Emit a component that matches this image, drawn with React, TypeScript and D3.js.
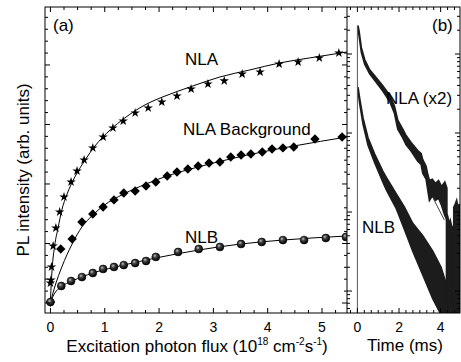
import { useEffect, useRef } from 'react';
import * as d3 from 'd3';

// panel (a): PL intensity vs excitation photon flux (10^18 cm^-2 s^-1)
const starFlux = [0, 0.01, 0.02, 0.05, 0.1, 0.17, 0.25, 0.38, 0.49, 0.62, 0.78, 0.97, 1.15, 1.34, 1.56, 1.8, 2.05, 2.33, 2.59, 2.9, 3.2, 3.53, 3.86, 4.21, 4.56, 4.95, 5.31];
const starPL = [1.68, 1.93, 3.03, 4.79, 6.3, 7.65, 8.91, 10.17, 11.09, 12.02, 13.03, 13.95, 14.71, 15.29, 15.97, 16.39, 16.89, 17.39, 17.98, 18.4, 18.66, 19.24, 19.41, 20.08, 20.25, 20.59, 21.01];

const diamondFlux = [0, 0.19, 0.4, 0.58, 0.78, 0.97, 1.17, 1.35, 1.56, 1.76, 1.94, 2.15, 2.33, 2.53, 2.72, 2.92, 3.12, 3.32, 3.51, 3.69, 3.9, 4.08, 4.28, 4.48, 4.87, 5.37];
const diamondPL = [0.08, 4.54, 5.38, 6.81, 7.48, 8.07, 8.66, 9.24, 9.41, 9.83, 10.17, 10.67, 11.01, 11.26, 11.51, 11.76, 11.85, 12.27, 12.44, 12.52, 12.69, 12.94, 13.03, 13.11, 13.78, 13.95];

const ballFlux = [0, 0.2, 0.38, 0.58, 0.78, 0.97, 1.17, 1.35, 1.56, 1.76, 1.94, 2.35, 2.73, 3.12, 3.51, 3.89, 4.28, 4.67, 5.07, 5.44];
const ballPL = [0.08, 1.43, 1.85, 2.18, 2.52, 2.86, 3.03, 3.19, 3.36, 3.53, 3.87, 4.29, 4.54, 4.71, 4.96, 5.13, 5.29, 5.29, 5.46, 5.55];

// fit curves
const fitNLAFlux = [0, 0.03, 0.08, 0.14, 0.21, 0.3, 0.45, 0.64, 0.82, 1.1, 1.37, 1.74, 2.11, 2.57, 3.12, 3.67, 4.22, 4.77, 5.46];
const fitNLAPL = [0.25, 2.77, 4.87, 6.3, 7.82, 9.08, 10.59, 12.02, 13.19, 14.54, 15.55, 16.64, 17.39, 18.15, 18.99, 19.58, 20.17, 20.59, 21.09];
const fitBgFlux = [0, 0.09, 0.21, 0.4, 0.58, 0.78, 0.97, 1.35, 1.76, 2.15, 2.72, 3.31, 3.9, 4.48, 5.46];
const fitBgPL = [0.08, 1.51, 3.03, 4.96, 6.39, 7.39, 8.15, 9.16, 10.0, 10.67, 11.43, 12.1, 12.69, 13.19, 13.95];
const fitNLBFlux = [0, 0.08, 0.19, 0.4, 0.78, 1.35, 1.94, 2.73, 3.51, 4.28, 5.46];
const fitNLBPL = [0.08, 0.84, 1.34, 1.85, 2.52, 3.19, 3.78, 4.45, 4.96, 5.29, 5.63];

// panel (b): decay traces, log intensity vs time (ms); hi/lo = width of the noisy trace
const nlaTime = [0.03, 0.08, 0.19, 0.35, 0.59, 0.91, 1.22, 1.55, 1.78, 1.94, 2.18, 2.34, 2.58, 2.9, 3.06, 3.14, 3.3, 3.38, 3.46, 3.6, 3.75, 3.9, 4.05, 4.2, 4.3];
const nlaHi = [2291, 1950, 1202, 851, 631, 501, 398, 302, 219, 145, 112, 93, 76, 60, 55, 46, 38, 30, 25, 26, 23, 25, 21, 24, 20];
const nlaLo = [2089, 1698, 1047, 741, 562, 437, 339, 251, 178, 112, 87, 71, 59, 44, 40, 31, 26, 19, 14, 16, 14, 15, 12, 9, 8];
const nlaLinkTime = [3.61, 4.18];
const nlaLinkVal = [15.5, 7.9];
const nlaTailTime = [4.28, 4.34, 4.4, 4.46, 4.52, 4.58];
const nlaTailTop = [9.5, 8.9, 7.1, 7.9, 6.8, 6.3];
const nlaTail2Time = [4.63, 4.7, 4.77, 4.84, 4.9, 4.95];
const nlaTail2Top = [11.5, 12.6, 14.1, 11.2, 12.6, 10];

const nlbTime = [0.03, 0.11, 0.27, 0.51, 0.83, 1.22, 1.39, 1.87, 2.26, 2.66, 3.14, 3.62, 4.02, 4.26, 4.42];
const nlbHi = [380, 275, 155, 87, 54, 33, 27.5, 17, 11.5, 7.2, 5.0, 3.2, 2.0, 1.26, 0.7];
const nlbLo = [340, 236, 130, 70, 42, 24, 19, 11, 6.0, 3.2, 1.6, 0.8, 0.5, 0.5, 0.5];

const FONT = '"Liberation Sans", Arial, sans-serif';

export default function App() {
    const ref = useRef<SVGSVGElement>(null);

    useEffect(() => {
        if (!ref.current) return;
        const svg = d3.select(ref.current);
        svg.selectAll('*').remove();

        const aL = 45, aR = 347, top = 7, bot = 313, bR = 460;

        const xA = d3.scaleLinear().domain([-0.1, 5.46]).range([aL, aR]);
        const yA = d3.scaleLinear().domain([-0.84, 24.87]).range([bot, top]);
        const xB = d3.scaleLinear().domain([-0.5, 4.93]).range([aR, bR]);
        const yB = d3.scaleLog().domain([0.527, 3935]).range([bot, top]);

        const defs = svg.append('defs');
        const grad = defs.append('radialGradient').attr('id', 'ball')
            .attr('cx', '38%').attr('cy', '35%').attr('r', '65%');
        grad.append('stop').attr('offset', '0%').attr('stop-color', '#c8c8c8');
        grad.append('stop').attr('offset', '35%').attr('stop-color', '#444');
        grad.append('stop').attr('offset', '100%').attr('stop-color', '#000');
        defs.append('clipPath').attr('id', 'clipB').append('rect')
            .attr('x', aR).attr('y', top).attr('width', bR - aR).attr('height', bot - top);
        defs.append('clipPath').attr('id', 'clipA').append('rect')
            .attr('x', aL).attr('y', top).attr('width', aR - aL).attr('height', bot - top);

        // ---- panel (a) fits
        const ga = svg.append('g').attr('clip-path', 'url(#clipA)');
        const fitLine = d3.line<[number, number]>()
            .x(d => xA(d[0])).y(d => yA(d[1])).curve(d3.curveMonotoneX);
        [[fitNLAFlux, fitNLAPL], [fitBgFlux, fitBgPL], [fitNLBFlux, fitNLBPL]].forEach(([fx, fy]) => {
            ga.append('path')
                .attr('d', fitLine(fx.map((v, i) => [v, fy[i]] as [number, number])))
                .attr('fill', 'none').attr('stroke', '#000').attr('stroke-width', 1);
        });

        // markers
        const star = d3.symbol(d3.symbolStar, 28)()!;
        ga.selectAll('path.star').data(starFlux).enter().append('path')
            .attr('d', star)
            .attr('transform', (d, i) => `translate(${xA(d)},${yA(starPL[i])})`)
            .attr('fill', '#000');
        const sq = d3.symbol(d3.symbolSquare, 44)()!;
        ga.selectAll('path.dia').data(diamondFlux).enter().append('path')
            .attr('d', sq)
            .attr('transform', (d, i) => `translate(${xA(d)},${yA(diamondPL[i])}) rotate(45)`)
            .attr('fill', '#000');
        ga.selectAll('circle.ball').data(ballFlux).enter().append('circle')
            .attr('cx', d => xA(d)).attr('cy', (d, i) => yA(ballPL[i]))
            .attr('r', 3.9).attr('fill', 'url(#ball)').attr('stroke', '#000').attr('stroke-width', 0.7);

        // ---- panel (b) traces
        const gb = svg.append('g').attr('clip-path', 'url(#clipB)');
        const band = d3.area<number>()
            .x(d => xB(d)).curve(d3.curveLinear);
        const drawBand = (t: number[], hi: number[], lo: number[]) => {
            gb.append('path')
                .attr('d', band.y0((d, i) => yB(Math.max(lo[i], 0.5)))
                    .y1((d, i) => yB(Math.max(hi[i], 0.5)))(t))
                .attr('fill', '#1c1c1c').attr('stroke', '#1c1c1c').attr('stroke-width', 1.6);
        };
        drawBand(nlaTime, nlaHi, nlaLo);
        drawBand(nlbTime, nlbHi, nlbLo);
        drawBand(nlaTailTime, nlaTailTop, nlaTailTime.map(() => 0.5));
        drawBand(nlaTail2Time, nlaTail2Top, nlaTail2Time.map(() => 0.5));

        const ln = d3.line<[number, number]>().x(d => xB(d[0])).y(d => yB(d[1]));
        gb.append('path')
            .attr('d', ln(nlaLinkTime.map((t, i) => [t, nlaLinkVal[i]] as [number, number])))
            .attr('fill', 'none').attr('stroke', '#444').attr('stroke-width', 1);
        // rising edge at t = 0
        gb.append('path')
            .attr('d', ln([[0, 0.5], [0, nlaHi[0]]]))
            .attr('fill', 'none').attr('stroke', '#555').attr('stroke-width', 1);

        // ---- frames & ticks
        const axes = svg.append('g').attr('stroke', '#000').attr('stroke-width', 1).attr('fill', 'none');
        axes.append('rect').attr('x', aL).attr('y', top).attr('width', bR - aL).attr('height', bot - top);
        axes.append('line').attr('x1', aR).attr('x2', aR).attr('y1', top).attr('y2', bot);

        const tick = (x1: number, y1: number, x2: number, y2: number) =>
            axes.append('line').attr('x1', x1).attr('y1', y1).attr('x2', x2).attr('y2', y2);

        // panel a x ticks
        d3.range(0, 22).map(k => k * 0.25).forEach(v => {
            const x = xA(v);
            const len = v % 1 === 0 ? 5 : 3;
            tick(x, bot, x, bot - len);
            tick(x, top, x, top + len);
        });
        // panel a y ticks
        d3.range(0, 25).forEach(v => {
            const y = yA(v);
            const len = v % 5 === 0 ? 5 : 3;
            tick(aL, y, aL + len, y);
            tick(aR, y, aR - len, y);
        });
        // panel b x ticks
        d3.range(-1, 15).map(k => k / 3).forEach(v => {
            const x = xB(v);
            if (x <= aR + 0.5 || x >= bR - 0.5) return;
            const major = Math.abs(v - Math.round(v)) < 1e-6 && Math.round(v) % 2 === 0;
            const len = major ? 5 : 3;
            tick(x, bot, x, bot - len);
            tick(x, top, x, top + len);
        });
        // panel b log y ticks
        [0.1, 1, 10, 100, 1000].forEach(dec => {
            d3.range(1, 10).forEach(m => {
                const v = dec * m;
                if (v < 0.527 || v > 3935) return;
                const y = yB(v);
                const len = m === 1 ? 5 : 3;
                tick(aR, y, aR + len, y);
                tick(bR, y, bR - len, y);
            });
        });

        // ---- text
        const txt = svg.append('g').attr('font-family', FONT).attr('fill', '#000');
        const xTicksA = [0, 1, 2, 3, 4, 5];
        txt.selectAll('text.xa').data(xTicksA).enter().append('text')
            .attr('x', d => xA(d)).attr('y', 332).attr('text-anchor', 'middle')
            .attr('font-size', 14).text(d => d);
        const xTicksB = [0, 2, 4];
        txt.selectAll('text.xb').data(xTicksB).enter().append('text')
            .attr('x', d => xB(d)).attr('y', 332).attr('text-anchor', 'middle')
            .attr('font-size', 14).text(d => d);

        const xt = txt.append('text').attr('x', 197).attr('y', 352).attr('text-anchor', 'middle').attr('font-size', 17);
        xt.append('tspan').text('Excitation photon flux (10');
        xt.append('tspan').attr('dy', -7).attr('font-size', 10).text('18');
        xt.append('tspan').attr('dy', 7).text(' cm');
        xt.append('tspan').attr('dy', -7).attr('font-size', 10).text('-2');
        xt.append('tspan').attr('dy', 7).text('s');
        xt.append('tspan').attr('dy', -7).attr('font-size', 10).text('-1');
        xt.append('tspan').attr('dy', 7).text(')');

        txt.append('text').attr('x', 405).attr('y', 351).attr('text-anchor', 'middle')
            .attr('font-size', 17).text('Time (ms)');

        txt.append('text').attr('transform', 'translate(29,170) rotate(-90)')
            .attr('text-anchor', 'middle').attr('font-size', 17).text('PL intensity (arb. units)');

        const label = (x: number, y: number, s: string) =>
            txt.append('text').attr('x', x).attr('y', y).attr('font-size', 17).text(s);
        label(53, 31, '(a)');
        label(432, 31, '(b)');
        label(185, 65, 'NLA');
        label(183, 135, 'NLA Background');
        label(185, 243, 'NLB');
        label(386, 104, 'NLA (x2)');
        label(362, 233, 'NLB');
    }, []);

    return (
        <svg ref={ref} width={461} height={362}
            style={{ position: 'absolute', left: 0, top: 0, background: '#fff' }} />
    );
}
